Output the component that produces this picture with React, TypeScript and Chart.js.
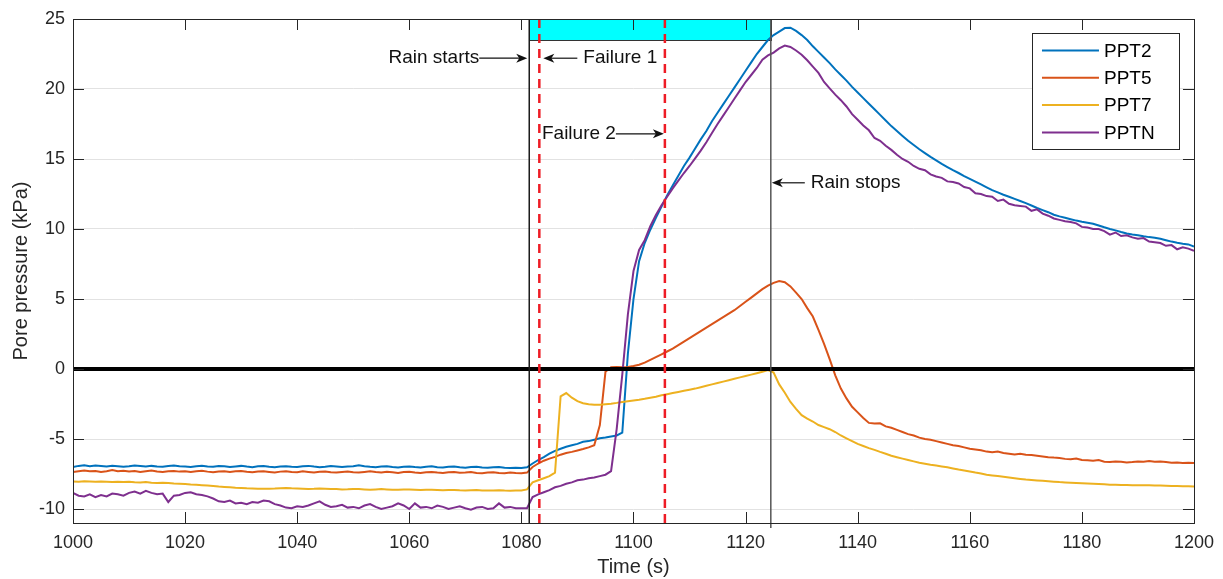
import React, { useEffect, useRef } from "react";
import { Chart, registerables } from "chart.js";

Chart.register(...registerables);

// ---------------- data ----------------
const time: number[] = [
  1000, 1001, 1002, 1003, 1004, 1005, 1006, 1007, 1008, 1009,
  1010, 1011, 1012, 1013, 1014, 1015, 1016, 1017, 1018, 1019,
  1020, 1021, 1022, 1023, 1024, 1025, 1026, 1027, 1028, 1029,
  1030, 1031, 1032, 1033, 1034, 1035, 1036, 1037, 1038, 1039,
  1040, 1041, 1042, 1043, 1044, 1045, 1046, 1047, 1048, 1049,
  1050, 1051, 1052, 1053, 1054, 1055, 1056, 1057, 1058, 1059,
  1060, 1061, 1062, 1063, 1064, 1065, 1066, 1067, 1068, 1069,
  1070, 1071, 1072, 1073, 1074, 1075, 1076, 1077, 1078, 1079,
  1080, 1081, 1082, 1083, 1084, 1085, 1086, 1087, 1088, 1089,
  1090, 1091, 1092, 1093, 1094, 1095, 1096, 1097, 1098, 1099,
  1100, 1101, 1102, 1103, 1104, 1105, 1106, 1107, 1108, 1109,
  1110, 1111, 1112, 1113, 1114, 1115, 1116, 1117, 1118, 1119,
  1120, 1121, 1122, 1123, 1124, 1125, 1126, 1127, 1128, 1129,
  1130, 1131, 1132, 1133, 1134, 1135, 1136, 1137, 1138, 1139,
  1140, 1141, 1142, 1143, 1144, 1145, 1146, 1147, 1148, 1149,
  1150, 1151, 1152, 1153, 1154, 1155, 1156, 1157, 1158, 1159,
  1160, 1161, 1162, 1163, 1164, 1165, 1166, 1167, 1168, 1169,
  1170, 1171, 1172, 1173, 1174, 1175, 1176, 1177, 1178, 1179,
  1180, 1181, 1182, 1183, 1184, 1185, 1186, 1187, 1188, 1189,
  1190, 1191, 1192, 1193, 1194, 1195, 1196, 1197, 1198, 1199,
  1200,
];

const ppt2: number[] = [
  -7.0, -6.92, -6.88, -6.95, -6.9, -6.93, -6.97, -6.91, -6.94, -6.98,
  -6.95, -6.9, -6.93, -6.97, -6.92, -6.96, -6.99, -6.93, -6.9, -6.95,
  -6.97, -7.0, -6.94, -6.91, -6.96, -6.98, -6.93, -6.95, -7.0, -6.96,
  -6.92, -6.97, -7.01, -6.95, -6.93, -6.98, -7.02, -6.96, -6.94, -6.99,
  -7.0, -6.95, -6.92, -6.97, -7.01, -6.98, -6.93, -6.96, -7.0, -6.97,
  -6.95, -6.88, -6.94, -6.99, -7.02, -6.97, -6.95, -7.0, -7.03, -6.98,
  -6.96, -7.0, -7.03, -6.98, -6.95, -7.01, -7.04, -6.99, -6.97, -7.02,
  -7.05, -7.0, -6.98, -7.03, -7.06, -7.02, -7.0, -7.05, -7.08, -7.06,
  -7.07, -7.02, -6.75, -6.5, -6.3, -6.05, -5.85, -5.7, -5.55, -5.45,
  -5.35, -5.2, -5.15, -5.05, -4.95, -4.9, -4.82, -4.75, -4.55, 1.1,
  5.0, 7.7, 9.0, 9.95, 10.8, 11.6, 12.4, 13.1, 13.8, 14.5,
  15.1, 15.75, 16.4, 17.0, 17.7, 18.3, 18.9, 19.5, 20.1, 20.7,
  21.3, 21.9, 22.5, 23.0, 23.5, 23.85, 24.1, 24.35, 24.38, 24.15,
  23.85, 23.5, 23.05, 22.65, 22.25, 21.85, 21.4, 21.0, 20.6, 20.15,
  19.75, 19.35, 18.95, 18.55, 18.15, 17.75, 17.35, 17.0, 16.65, 16.3,
  16.0, 15.7, 15.42, 15.15, 14.9, 14.65, 14.42, 14.2, 14.0, 13.78,
  13.58, 13.38, 13.18, 12.98, 12.78, 12.62, 12.45, 12.3, 12.15, 12.0,
  11.85, 11.68, 11.5, 11.35, 11.2, 11.02, 10.9, 10.8, 10.7, 10.6,
  10.52, 10.45, 10.38, 10.25, 10.12, 10.0, 9.9, 9.78, 9.68, 9.6,
  9.55, 9.48, 9.42, 9.38, 9.3, 9.2, 9.1, 9.02, 8.95, 8.9,
  8.75,
];

const ppt5: number[] = [
  -7.35, -7.3, -7.25, -7.3, -7.28, -7.35, -7.3, -7.22, -7.3, -7.27,
  -7.32, -7.28, -7.35, -7.3, -7.25, -7.32, -7.36, -7.3, -7.28, -7.33,
  -7.3, -7.35, -7.3, -7.27, -7.33, -7.38, -7.32, -7.3, -7.35, -7.3,
  -7.28, -7.34, -7.38, -7.32, -7.3, -7.35, -7.4, -7.33, -7.3, -7.36,
  -7.38, -7.3, -7.35, -7.4, -7.34, -7.32, -7.37, -7.4, -7.35, -7.33,
  -7.38, -7.4, -7.35, -7.3, -7.36, -7.4, -7.34, -7.38, -7.42, -7.36,
  -7.34, -7.39, -7.42, -7.37, -7.35, -7.4, -7.43, -7.38, -7.36, -7.41,
  -7.4, -7.36, -7.42, -7.44, -7.39, -7.37, -7.42, -7.45, -7.4, -7.43,
  -7.44, -7.4, -7.0, -6.75, -6.55, -6.4, -6.28, -6.12, -6.0, -5.92,
  -5.82, -5.72, -5.6, -5.45, -4.0, -0.2, 0.12, 0.14, 0.12, 0.15,
  0.22, 0.3, 0.45, 0.65, 0.85, 1.05, 1.25, 1.45, 1.7, 1.95,
  2.2, 2.45, 2.7, 2.95, 3.2, 3.45, 3.7, 3.95, 4.2, 4.5,
  4.8, 5.1, 5.4, 5.7, 5.95, 6.15, 6.28, 6.2, 5.9, 5.45,
  5.0, 4.35, 3.75, 2.8, 1.8, 0.7, -0.45, -1.4, -2.1, -2.7,
  -3.1, -3.5, -3.85, -3.9, -3.88, -4.1, -4.2, -4.35, -4.5, -4.65,
  -4.75, -4.9, -5.0, -5.05, -5.15, -5.25, -5.35, -5.45, -5.5, -5.6,
  -5.7, -5.75, -5.8, -5.9, -5.95, -5.9, -6.0, -6.05, -6.1, -6.05,
  -6.12, -6.15, -6.2, -6.25, -6.3, -6.33, -6.35, -6.42, -6.45, -6.4,
  -6.5, -6.52, -6.55, -6.5, -6.62, -6.65, -6.6, -6.62, -6.68, -6.65,
  -6.6, -6.62, -6.58, -6.62, -6.6, -6.65, -6.7, -6.68, -6.72, -6.7,
  -6.72,
];

const ppt7: number[] = [
  -8.03, -8.05, -8.02, -8.04, -8.06, -8.03, -8.05, -8.07, -8.05, -8.08,
  -8.06, -8.09, -8.1, -8.08, -8.12, -8.14, -8.12, -8.15, -8.18, -8.2,
  -8.22, -8.25, -8.27, -8.3, -8.33, -8.36, -8.4, -8.42, -8.45, -8.48,
  -8.5, -8.52, -8.53, -8.55, -8.56, -8.55, -8.54, -8.52, -8.5, -8.52,
  -8.53, -8.55, -8.57, -8.56, -8.54, -8.55, -8.57, -8.58, -8.6, -8.59,
  -8.57, -8.58, -8.6, -8.62, -8.6, -8.58, -8.6, -8.62, -8.63, -8.61,
  -8.6, -8.62, -8.64, -8.63, -8.62, -8.64, -8.66, -8.65, -8.64, -8.66,
  -8.67, -8.66, -8.65, -8.67, -8.68, -8.67, -8.66, -8.68, -8.69, -8.68,
  -8.67, -8.6, -8.1, -7.95, -7.8, -7.65, -7.4, -1.95, -1.72, -2.05,
  -2.3, -2.45, -2.52, -2.55, -2.56, -2.52, -2.48, -2.42, -2.35, -2.3,
  -2.25, -2.2, -2.13, -2.05, -1.98, -1.88, -1.8, -1.72, -1.64, -1.56,
  -1.48, -1.4, -1.3, -1.2, -1.1, -1.0, -0.9, -0.8, -0.7, -0.6,
  -0.5, -0.4, -0.3, -0.2, -0.08, -0.25, -1.1, -1.7, -2.35, -2.85,
  -3.3, -3.55, -3.75, -4.0, -4.15, -4.3, -4.5, -4.75, -4.95, -5.15,
  -5.35, -5.5, -5.65, -5.78, -5.92, -6.05, -6.2, -6.3, -6.4, -6.5,
  -6.6, -6.7, -6.77, -6.84, -6.9, -6.96, -7.02, -7.1, -7.18, -7.25,
  -7.32, -7.4, -7.47, -7.55, -7.6, -7.65, -7.7, -7.75, -7.8, -7.85,
  -7.9, -7.93, -7.96, -7.99, -8.02, -8.05, -8.08, -8.1, -8.12, -8.14,
  -8.16, -8.18, -8.2, -8.22, -8.24, -8.26, -8.27, -8.28, -8.29, -8.3,
  -8.3, -8.31, -8.31, -8.32, -8.33, -8.34, -8.35, -8.36, -8.37, -8.38,
  -8.39,
];

const pptN: number[] = [
  -8.85, -9.05, -9.1, -8.95, -9.15, -9.0, -9.1, -8.9, -8.95, -9.05,
  -8.85, -8.75, -8.9, -8.7, -8.85, -8.95, -8.9, -9.5, -9.05, -9.0,
  -8.85, -8.8, -8.95, -9.0, -9.1, -9.25, -9.45, -9.5, -9.4, -9.6,
  -9.55, -9.65, -9.5, -9.55, -9.4, -9.45, -9.65, -9.75, -9.9, -9.95,
  -9.8, -9.85, -9.75, -9.6, -9.45, -9.7, -9.85, -9.8, -9.7, -9.9,
  -9.85, -9.95, -9.75, -9.65, -9.85, -10.0, -9.9, -9.8, -9.6, -9.75,
  -10.0, -9.6, -9.9, -9.85, -9.95, -9.75, -9.85, -10.0, -9.9, -9.8,
  -9.95, -10.05, -9.9, -9.85, -10.0, -9.95, -9.6, -9.9, -9.85, -9.95,
  -9.95, -9.95, -9.15, -8.95, -8.8, -8.65, -8.45, -8.35, -8.2, -8.1,
  -7.95, -7.9, -7.8, -7.75, -7.65, -7.55, -7.3, -4.3, -0.4, 3.9,
  7.0, 8.5, 9.2, 10.2, 11.0, 11.7, 12.3, 12.9, 13.45, 14.0,
  14.5, 15.05, 15.6, 16.2, 16.85, 17.5, 18.1, 18.7, 19.3, 19.9,
  20.5, 21.0, 21.5, 22.1, 22.4, 22.6, 22.9, 23.1, 23.0, 22.75,
  22.45, 22.05, 21.6, 21.15, 20.5, 20.05, 19.6, 19.2, 18.75, 18.2,
  17.8, 17.4, 17.05, 16.5, 16.3, 15.95, 15.65, 15.3, 15.0, 14.8,
  14.5, 14.3, 14.2, 13.9, 13.75, 13.65, 13.4, 13.35, 13.25, 13.0,
  12.9, 12.55, 12.5, 12.35, 12.3, 12.0, 12.1, 11.8, 11.7, 11.65,
  11.6, 11.3, 11.4, 11.1, 10.95, 10.75, 10.65, 10.55, 10.5, 10.4,
  10.15, 10.1, 10.0, 10.0, 9.85, 9.6, 9.75, 9.5, 9.55, 9.4,
  9.3, 9.35, 9.1, 9.05, 9.0, 8.8, 8.85, 8.55, 8.7, 8.6,
  8.45,
];

const seriesLabels: string[] = ["PPT2", "PPT5", "PPT7", "PPTN"];
const seriesValues: number[][] = [ppt2, ppt5, ppt7, pptN];
const seriesColors: string[] = ["#0072BD", "#D95319", "#EDB120", "#7E2F8E"];

const xTickValues: number[] = [1000, 1020, 1040, 1060, 1080, 1100, 1120, 1140, 1160, 1180, 1200];
const yTickValues: number[] = [-10, -5, 0, 5, 10, 15, 20, 25];

// event times (s) and annotation levels (kPa)
const RAIN_START = 1081.4;
const RAIN_STOP = 1124.5;
const FAILURE_1 = 1083.2;
const FAILURE_2 = 1105.6;
const RAIN_BAR_BOTTOM = 23.5;
const RAIN_BAR_TOP = 25;
const LABEL_Y_TOP = 22.2;
const LABEL_Y_FAILURE2 = 16.8;
const LABEL_Y_RAIN_STOP = 13.3;

// ---------------- styles ----------------
const FONT = "'Liberation Sans', Arial, Helvetica, sans-serif";
const AXIS_COLOR = "#262626";

function arrowHead(ctx: CanvasRenderingContext2D, tipX: number, tipY: number, dir: number) {
  const L = 11;
  const W = 4.5;
  const notch = 3;
  ctx.beginPath();
  ctx.moveTo(tipX, tipY);
  ctx.lineTo(tipX - dir * L, tipY - W);
  ctx.lineTo(tipX - dir * (L - notch), tipY);
  ctx.lineTo(tipX - dir * L, tipY + W);
  ctx.closePath();
  ctx.fill();
}

function arrow(ctx: CanvasRenderingContext2D, tailX: number, tipX: number, y: number) {
  const dir = tipX > tailX ? 1 : -1;
  ctx.beginPath();
  ctx.moveTo(tailX, y);
  ctx.lineTo(tipX - dir * 6, y);
  ctx.stroke();
  arrowHead(ctx, tipX, y, dir);
}

const decorPlugin = {
  id: "decor",
  beforeDatasetsDraw(chart: any) {
    const { ctx, scales } = chart;
    const x = scales.x;
    const y = scales.y;
    const x0 = x.getPixelForValue(RAIN_START);
    const x1 = x.getPixelForValue(RAIN_STOP);
    const yt = y.getPixelForValue(RAIN_BAR_TOP);
    const yb = y.getPixelForValue(RAIN_BAR_BOTTOM);
    ctx.save();
    ctx.fillStyle = "#00FFFF";
    ctx.fillRect(x0, yt, x1 - x0, yb - yt);
    ctx.strokeStyle = "#333333";
    ctx.lineWidth = 1;
    ctx.strokeRect(Math.round(x0) + 0.5, Math.round(yt) + 0.5, Math.round(x1 - x0), Math.round(yb - yt));
    ctx.restore();
  },
  afterDatasetsDraw(chart: any) {
    const { ctx, chartArea, scales } = chart;
    const x = scales.x;
    const y = scales.y;
    const { left, right, top, bottom } = chartArea;
    ctx.save();

    // zero line
    const y0 = y.getPixelForValue(0);
    ctx.strokeStyle = "#000000";
    ctx.lineWidth = 4;
    ctx.beginPath();
    ctx.moveTo(left, y0);
    ctx.lineTo(right, y0);
    ctx.stroke();

    // rain start / stop lines
    const xs = x.getPixelForValue(RAIN_START);
    const xe = x.getPixelForValue(RAIN_STOP);
    ctx.lineWidth = 1.5;
    ctx.strokeStyle = "#1a1a1a";
    ctx.beginPath();
    ctx.moveTo(xs, top);
    ctx.lineTo(xs, bottom);
    ctx.stroke();
    ctx.strokeStyle = "#555555";
    ctx.beginPath();
    ctx.moveTo(xe, top);
    ctx.lineTo(xe, bottom + 5);
    ctx.stroke();

    // failure lines
    ctx.strokeStyle = "#EE1C25";
    ctx.lineWidth = 2.5;
    ctx.setLineDash([9, 6]);
    for (const t of [FAILURE_1, FAILURE_2]) {
      const px = x.getPixelForValue(t);
      ctx.beginPath();
      ctx.moveTo(px, top);
      ctx.lineTo(px, bottom);
      ctx.stroke();
    }
    ctx.setLineDash([]);

    // annotations
    ctx.fillStyle = "#111111";
    ctx.strokeStyle = "#111111";
    ctx.lineWidth = 1.2;
    ctx.font = `19px ${FONT}`;
    ctx.textBaseline = "middle";

    const yTop = y.getPixelForValue(LABEL_Y_TOP);
    // Rain starts
    const tip1 = xs - 2;
    arrow(ctx, tip1 - 48, tip1, yTop);
    ctx.textAlign = "right";
    ctx.fillText("Rain starts", tip1 - 48, yTop);
    // Failure 1
    const tip2 = x.getPixelForValue(FAILURE_1) + 4;
    arrow(ctx, tip2 + 34, tip2, yTop);
    ctx.textAlign = "left";
    ctx.fillText("Failure 1", tip2 + 40, yTop);
    // Failure 2
    const yF2 = y.getPixelForValue(LABEL_Y_FAILURE2);
    const tip3 = x.getPixelForValue(FAILURE_2) - 1;
    arrow(ctx, tip3 - 48, tip3, yF2);
    ctx.textAlign = "right";
    ctx.fillText("Failure 2", tip3 - 48, yF2);
    // Rain stops
    const yRS = y.getPixelForValue(LABEL_Y_RAIN_STOP);
    const tip4 = xe + 1;
    arrow(ctx, tip4 + 33, tip4, yRS);
    ctx.textAlign = "left";
    ctx.fillText("Rain stops", tip4 + 39, yRS);

    // inner ticks
    ctx.strokeStyle = AXIS_COLOR;
    ctx.lineWidth = 1;
    for (const v of xTickValues) {
      const px = Math.round(x.getPixelForValue(v)) + 0.5;
      ctx.beginPath();
      ctx.moveTo(px, bottom);
      ctx.lineTo(px, bottom - 11);
      ctx.moveTo(px, top);
      ctx.lineTo(px, top + 11);
      ctx.stroke();
    }
    for (const v of yTickValues) {
      const py = Math.round(y.getPixelForValue(v)) + 0.5;
      ctx.beginPath();
      ctx.moveTo(left, py);
      ctx.lineTo(left + 11, py);
      ctx.moveTo(right, py);
      ctx.lineTo(right - 11, py);
      ctx.stroke();
    }

    // axes box
    ctx.strokeStyle = AXIS_COLOR;
    ctx.lineWidth = 1;
    ctx.strokeRect(Math.round(left) + 0.5, Math.round(top) + 0.5, Math.round(right - left), Math.round(bottom - top));

    // legend
    const lw = 147;
    const lh = 116;
    const lx = right - 15 - lw;
    const ly = top + 14;
    ctx.fillStyle = "#ffffff";
    ctx.fillRect(lx, ly, lw, lh);
    ctx.strokeStyle = AXIS_COLOR;
    ctx.strokeRect(Math.round(lx) + 0.5, Math.round(ly) + 0.5, lw, lh);
    ctx.font = `19px ${FONT}`;
    ctx.textAlign = "left";
    ctx.textBaseline = "middle";
    chart.data.datasets.forEach((ds: any, i: number) => {
      const rowY = ly + 17.5 + i * 27.3;
      ctx.strokeStyle = ds.borderColor;
      ctx.lineWidth = 2;
      ctx.beginPath();
      ctx.moveTo(lx + 10, rowY);
      ctx.lineTo(lx + 67, rowY);
      ctx.stroke();
      ctx.fillStyle = "#000000";
      ctx.fillText(ds.label, lx + 72, rowY + 1);
    });

    ctx.restore();
  },
};

export default function App() {
  const canvasRef = useRef<HTMLCanvasElement | null>(null);

  useEffect(() => {
    const canvas = canvasRef.current;
    if (!canvas) return;
    const datasets = seriesLabels.map((label, i) => ({
      label,
      data: time.map((t, j) => ({ x: t, y: seriesValues[i][j] })),
      borderColor: seriesColors[i],
      backgroundColor: seriesColors[i],
      borderWidth: 2,
      pointRadius: 0,
      tension: 0,
      fill: false,
      order: seriesLabels.length - i,
    }));
    const chart = new Chart(canvas, {
      type: "line",
      data: { datasets },
      options: {
        responsive: false,
        animation: false,
        devicePixelRatio: 1,
        layout: { padding: { left: 0, right: 26, top: 19, bottom: 0 } },
        plugins: {
          legend: { display: false },
          tooltip: { enabled: false },
        },
        scales: {
          x: {
            type: "linear",
            min: 1000,
            max: 1200,
            afterBuildTicks: (s: any) => {
              s.ticks = xTickValues.map((v) => ({ value: v }));
            },
            afterFit: (s: any) => {
              s.height = 56;
            },
            grid: { display: false, drawTicks: false },
            border: { display: false },
            ticks: {
              padding: 9,
              color: AXIS_COLOR,
              font: { family: FONT, size: 18 },
              maxRotation: 0,
              autoSkip: false,
              callback: (v: any) => String(v),
            },
            title: {
              display: true,
              text: "Time (s)",
              color: AXIS_COLOR,
              font: { family: FONT, size: 20 },
              padding: { top: 0, bottom: 0 },
            },
          },
          y: {
            type: "linear",
            min: -11,
            max: 25,
            afterBuildTicks: (s: any) => {
              s.ticks = yTickValues.map((v) => ({ value: v }));
            },
            afterFit: (s: any) => {
              s.width = 73;
            },
            grid: { color: "#e2e2e2", lineWidth: 1, drawTicks: false },
            border: { display: false },
            ticks: {
              padding: 8,
              color: AXIS_COLOR,
              font: { family: FONT, size: 18 },
              autoSkip: false,
              callback: (v: any) => String(v),
            },
            title: {
              display: true,
              text: "Pore pressure (kPa)",
              color: AXIS_COLOR,
              font: { family: FONT, size: 20 },
              padding: { top: 9, bottom: 0 },
            },
          },
        },
      } as any,
      plugins: [decorPlugin as any],
    });
    return () => chart.destroy();
  }, []);

  return (
    <div style={{ position: "absolute", left: 0, top: 0, width: 1223, height: 579, background: "#ffffff" }}>
      <canvas ref={canvasRef} width={1223} height={579} style={{ display: "block", width: 1223, height: 579 }} />
    </div>
  );
}
